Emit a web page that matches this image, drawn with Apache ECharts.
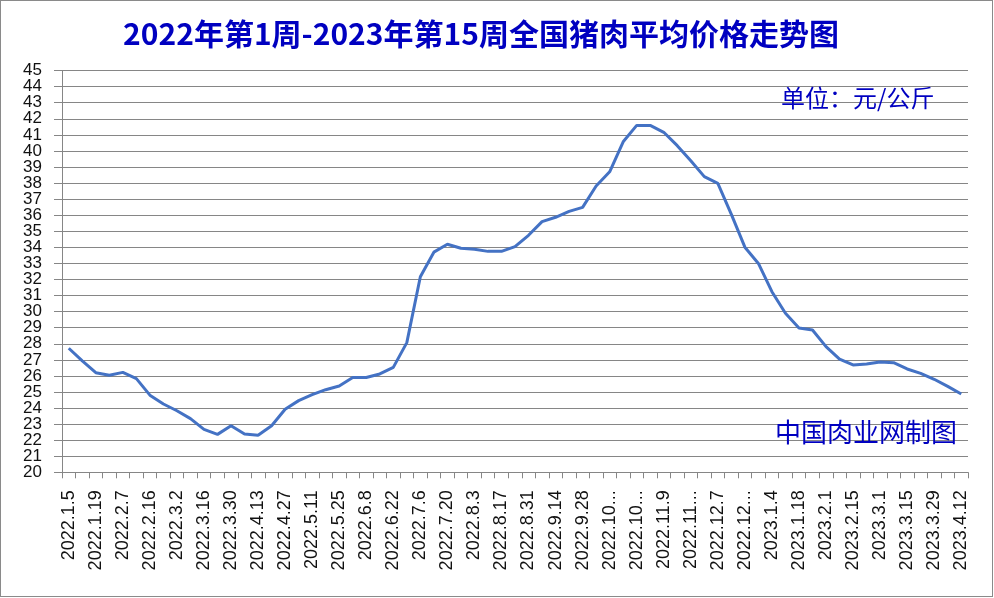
<!DOCTYPE html>
<html>
<head>
<meta charset="utf-8">
<script src="https://cdn.jsdelivr.net/npm/echarts@6/dist/echarts.min.js"></script>
<style>
  html, body { margin: 0; padding: 0; background: #fff; }
  #frame { position: absolute; left: 0; top: 0; width: 993px; height: 597px; box-sizing: border-box; border: 1px solid #8a8a8a; }
  #chart { position: absolute; left: 0; top: 0; width: 994px; height: 598px; }
</style>
</head>
<body>
<div id="chart"></div>
<div id="frame"></div>
<script>
const titleText = '2022年第1周-2023年第15周全国猪肉平均价格走势图';
const unitText = '单位：元/公斤';
const sourceText = '中国肉业网制图';

const weeks = [
  '2022.1.5','2022.1.12','2022.1.19','2022.1.26','2022.2.7','2022.2.9','2022.2.16','2022.2.23',
  '2022.3.2','2022.3.9','2022.3.16','2022.3.23','2022.3.30','2022.4.6','2022.4.13','2022.4.20',
  '2022.4.27','2022.5.4','2022.5.11','2022.5.18','2022.5.25','2022.6.1','2022.6.8','2022.6.15',
  '2022.6.22','2022.6.29','2022.7.6','2022.7.13','2022.7.20','2022.7.27','2022.8.3','2022.8.10',
  '2022.8.17','2022.8.24','2022.8.31','2022.9.7','2022.9.14','2022.9.21','2022.9.28','2022.10.5',
  '2022.10.12','2022.10.19','2022.10.26','2022.11.2','2022.11.9','2022.11.16','2022.11.23','2022.11.30',
  '2022.12.7','2022.12.14','2022.12.21','2022.12.28','2023.1.4','2023.1.11','2023.1.18','2023.1.25',
  '2023.2.1','2023.2.8','2023.2.15','2023.2.22','2023.3.1','2023.3.8','2023.3.15','2023.3.22',
  '2023.3.29','2023.4.5','2023.4.12'
];

const prices = [
  27.72, 26.93, 26.20, 26.04, 26.22, 25.83, 24.80, 24.25,
  23.83, 23.34, 22.67, 22.36, 22.90, 22.38, 22.30, 22.90,
  23.92, 24.46, 24.83, 25.14, 25.37, 25.90, 25.90, 26.12,
  26.53, 28.07, 32.17, 33.70, 34.19, 33.94, 33.88, 33.75,
  33.75, 34.04, 34.75, 35.60, 35.87, 36.24, 36.49, 37.82,
  38.70, 40.57, 41.59, 41.59, 41.16, 40.33, 39.39, 38.40,
  37.98, 36.05, 34.01, 33.00, 31.24, 29.90, 28.98, 28.86,
  27.82, 27.05, 26.68, 26.74, 26.86, 26.82, 26.43, 26.16,
  25.79, 25.35, 24.87
];

const yTickLabels = [
  '20','21','22','23','24','25','26','27','28','29','30','31','32',
  '33','34','35','36','37','38','39','40','41','42','43','44','45'
];

const yMin = 20, yMax = 45, yStep = 1;

const chart = echarts.init(document.getElementById('chart'), null, { renderer: 'canvas' });
chart.setOption({
  animation: false,
  backgroundColor: '#ffffff',
  title: {
    text: titleText,
    left: 476,
    textAlign: 'center',
    top: 14,
    textStyle: {
      fontFamily: 'Noto Sans CJK SC',
      fontSize: 30,
      fontWeight: 'bold',
      color: '#0000c0'
    }
  },
  grid: { left: 62, right: 26, top: 70.6, bottom: 125.7, containLabel: false },
  xAxis: {
    type: 'category',
    data: weeks,
    boundaryGap: true,
    axisLine: { show: true, lineStyle: { color: '#868686', width: 1 } },
    axisTick: { show: true, interval: 0, length: 6, lineStyle: { color: '#868686' } },
    axisLabel: {
      interval: 1,
      rotate: 90,
      margin: 18,
      fontFamily: 'Liberation Sans',
      fontSize: 18,
      color: '#111',
      formatter: function (v) { return v.length > 9 ? v.slice(0, 7) + '...' : v; }
    },
    splitLine: { show: false }
  },
  yAxis: [
    {
      type: 'value',
      min: yMin,
      max: yMax,
      interval: yStep,
      axisLine: { show: true, lineStyle: { color: '#868686', width: 1 } },
      axisTick: { show: true, length: 8, lineStyle: { color: '#868686' } },
      axisLabel: { show: false },
      splitLine: { show: true, lineStyle: { color: '#868686', width: 1 } }
    },
    {
      type: 'category',
      position: 'left',
      data: yTickLabels,
      boundaryGap: false,
      axisLine: { show: false },
      axisTick: { show: false },
      splitLine: { show: false },
      axisLabel: {
        interval: 0,
        margin: 20,
        fontFamily: 'Liberation Sans',
        fontSize: 17,
        color: '#111'
      }
    }
  ],
  series: [{
    type: 'line',
    yAxisIndex: 0,
    data: prices,
    showSymbol: false,
    symbol: 'none',
    smooth: false,
    lineStyle: { color: '#4472c4', width: 3 },
    itemStyle: { color: '#4472c4' }
  }],
  graphic: [
    {
      type: 'text',
      left: 781,
      top: 86,
      z: 10,
      style: {
        text: unitText,
        fontFamily: 'Noto Sans CJK SC',
        fontSize: 24,
        fill: '#0000c0'
      }
    },
    {
      type: 'text',
      left: 775,
      top: 419,
      z: 10,
      style: {
        text: sourceText,
        fontFamily: 'Noto Sans CJK SC',
        fontSize: 26,
        fill: '#0000c0'
      }
    }
  ]
});
</script>
</body>
</html>
